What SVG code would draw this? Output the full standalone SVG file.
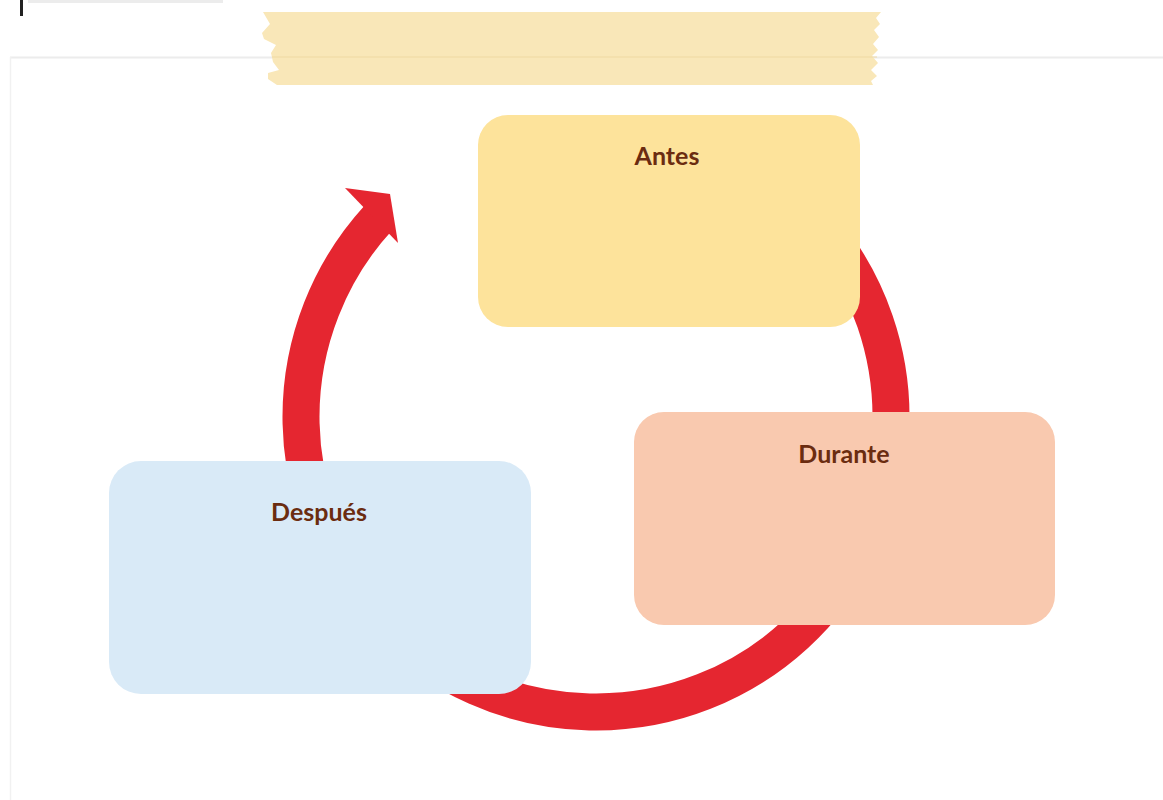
<svg xmlns="http://www.w3.org/2000/svg" width="1163" height="800" viewBox="0 0 1163 800">
  <style>
    .box { stroke: none; }
    .label { font-family: Lato, "Liberation Sans", Arial, sans-serif; font-weight: bold; font-size: 25px; fill: #6b2c10; text-anchor: middle; }
    .ring { fill: none; stroke: #e52630; stroke-width: 37; }
  </style>
  <rect x="0" y="0" width="1163" height="800" fill="#ffffff"/>
  <!-- page card edge -->
  <g id="page">
    <line x1="10" y1="57.5" x2="1163" y2="57.5" stroke="#ececec" stroke-width="2"/>
    <line x1="10.5" y1="57" x2="10.5" y2="800" stroke="#f1f1f1" stroke-width="1.5"/>
    <rect x="20" y="0" width="3" height="16" fill="#222222"/>
    <rect x="28" y="0" width="195" height="3" fill="#c8c8c8" opacity="0.35"/>
  </g>
  <!-- tape -->
  <g id="tape">
    <path d="M263 12 L881 12 L876 18 L880 24 L874 30 L879 37 L873 44 L878 50 L872 56 L878 63 L871 70 L877 76 L871 81 L873 85 L277 85 L268 79 L268 73 L279 70 L273 62 L271 53 L276 45 L264 39 L262 33 L270 24 Z" fill="#f9e7b8"/>
    <line x1="272" y1="57" x2="877" y2="57" stroke="#efd9a2" stroke-width="1.5" opacity="0.6"/>
  </g>
  <!-- connectors -->
  <g id="connectors">
    <path class="ring" d="M822 227.4 A295 295 0 1 1 378.5 217.7"/>
    <polygon points="345,188 390,194 398,243" fill="#e52630"/>
  </g>
  <g id="antes">
    <rect class="box" x="478" y="115" width="382" height="212" rx="30" fill="#fde39b"/>
    <text class="label" x="667" y="165">Antes</text>
  </g>
  <g id="durante">
    <rect class="box" x="634" y="412" width="421" height="213" rx="30" fill="#f9c9af"/>
    <text class="label" x="844" y="463">Durante</text>
  </g>
  <g id="despues">
    <rect class="box" x="109" y="461" width="422" height="233" rx="32" fill="#d9eaf7"/>
    <text class="label" x="319" y="521">Después</text>
  </g>
</svg>
